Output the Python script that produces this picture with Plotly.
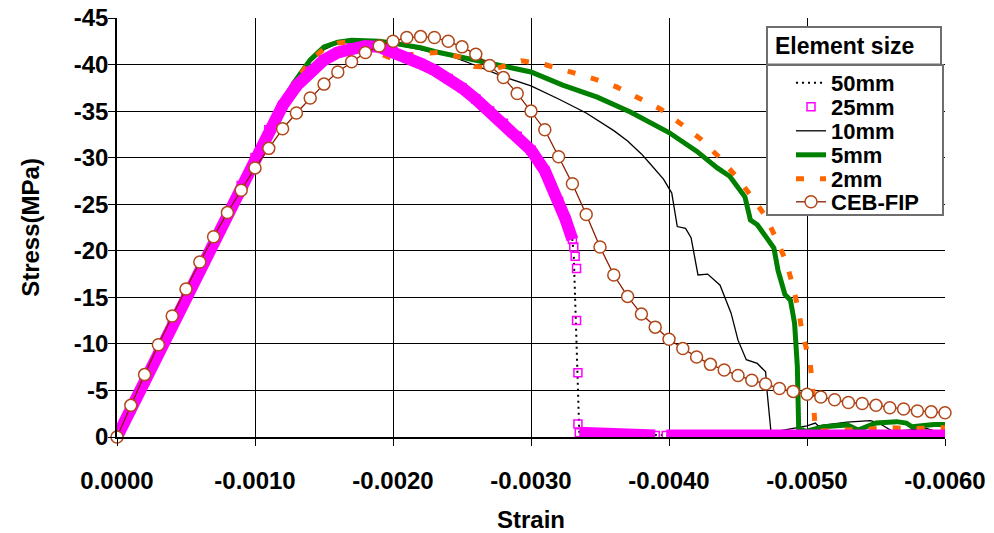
import plotly.graph_objects as go

# ---------------------------------------------------------------- data
# Stress-strain response of concrete in compression for several element sizes
# (compression negative), compared with the CEB-FIP model curve.

strain_50 = [0, -0.0005, -0.0010, -0.0012, -0.0014, -0.0016, -0.0018, -0.0020, -0.0022,
             -0.0024, -0.0026, -0.0028, -0.0030, -0.0031, -0.0032, -0.0033, -0.00331,
             -0.00333, -0.00335, -0.0036, -0.0040, -0.0045, -0.0050, -0.0055, -0.0060]
stress_50 = [0, -15.0, -30.0, -35.6, -39.3, -41.3, -42.0, -41.4, -40.1,
             -38.5, -36.3, -33.7, -30.8, -28.6, -25.3, -21.2, -19.4,
             -10.0, -0.4, -0.3, -0.2, -0.2, -0.2, -0.2, -0.2]

# 25 mm: pre-peak and softening branch, the sudden drop, and the residual tail
strain_25_pre = [0, -0.0001, -0.0002, -0.0003, -0.0004, -0.0005, -0.0006, -0.0007, -0.0008,
                 -0.0009, -0.0010, -0.0011, -0.0012, -0.0013, -0.0014, -0.0015, -0.0016,
                 -0.0017, -0.0018, -0.0019, -0.0020, -0.0021, -0.0022, -0.0023, -0.0024,
                 -0.0025, -0.0026, -0.0027, -0.0028, -0.0029, -0.0030, -0.0031, -0.0032,
                 -0.00325, -0.0033]
stress_25_pre = [0, -3.0, -6.0, -9.0, -12.0, -15.0, -18.0, -21.0, -24.0,
                 -27.0, -30.0, -33.0, -35.6, -37.7, -39.3, -40.5, -41.3,
                 -41.8, -42.0, -41.9, -41.4, -40.8, -40.1, -39.4, -38.5,
                 -37.5, -36.3, -35.0, -33.7, -32.3, -30.8, -28.6, -25.3,
                 -23.4, -21.2]
strain_25_drop = [-0.00331, -0.00332, -0.00333, -0.00333, -0.00334, -0.00334]
stress_25_drop = [-20.4, -19.4, -18.1, -12.5, -6.9, -1.4]
strain_25_post = [-0.00335, -0.0035, -0.0037, -0.0039, None, -0.00398, -0.0043,
                  -0.0047, -0.0051, -0.0055, -0.0060]
stress_25_post = [-0.45, -0.3, -0.15, -0.15, None, -0.15, -0.15,
                  -0.15, -0.15, -0.15, -0.15]

strain_10 = [0, -0.0004, -0.0008, -0.0010, -0.0012, -0.0013, -0.0014, -0.0015, -0.0016,
             -0.0017, -0.0018, -0.0019, -0.0020, -0.0022, -0.0024, -0.0026, -0.0028,
             -0.0030, -0.0032, -0.0034, -0.0036, -0.0037, -0.0038, -0.00386, -0.00392,
             -0.00396, -0.00402, -0.00406, -0.00412, -0.00416, -0.00421, -0.00428,
             -0.00437, -0.00445, -0.0045, -0.00456, -0.00464, -0.0047, -0.00471,
             -0.00473, -0.00474, -0.00478, -0.00488, -0.00493, -0.0050, -0.00506,
             -0.00508, -0.00529, -0.00546, -0.00552, -0.00562, -0.00577, -0.00587, -0.0060]
stress_10 = [0, -12.0, -24.0, -30.0, -35.9, -38.3, -40.3, -41.6, -42.3,
             -42.5, -42.5, -42.4, -42.2, -41.6, -41.0, -39.9, -38.7,
             -37.7, -36.3, -34.8, -32.9, -31.8, -30.4, -29.4, -28.4,
             -27.7, -26.2, -22.6, -22.4, -21.4, -17.4, -17.5,
             -16.3, -13.3, -10.4, -8.3, -7.9, -7.0, -5.0,
             -2.2, -0.4, -0.6, -0.9, -1.0, -1.2, -1.5,
             -1.2, -1.6, -1.75, -1.5, -0.6, -0.8, -0.9, -0.3]

strain_5 = [0, -0.0004, -0.0008, -0.0010, -0.0012, -0.00128, -0.0014, -0.0015, -0.0016,
            -0.0017, -0.0018, -0.0019, -0.0020, -0.0022, -0.0023, -0.0025, -0.0028,
            -0.0030, -0.00323, -0.00348, -0.00372, -0.0040, -0.0042, -0.00435, -0.00444,
            -0.00447, -0.00455, -0.00459, -0.00464, -0.00476, -0.00479, -0.00484,
            -0.00488, -0.00491, -0.00493, -0.00494, -0.00497, -0.00499, -0.00512,
            -0.00529, -0.00537, -0.0055, -0.00565, -0.00572, -0.00576, -0.00592, -0.0060]
stress_5 = [0, -12.0, -24.0, -30.0, -36.0, -38.0, -40.5, -41.9, -42.4,
            -42.6, -42.6, -42.5, -42.3, -41.8, -41.4, -40.8, -39.9,
            -39.2, -37.8, -36.5, -34.9, -32.7, -30.7, -28.9, -28.0,
            -27.4, -25.8, -23.3, -22.8, -20.3, -17.9, -15.3,
            -14.7, -12.2, -7.6, -0.75, -0.75, -0.6, -1.1,
            -1.3, -0.75, -1.5, -1.65, -1.5, -1.1, -1.35, -1.35]

strain_2 = [0, -0.0004, -0.0008, -0.0010, -0.0012, -0.0013, -0.0014, -0.0015, -0.0016,
            -0.00166, -0.0018, -0.0019, -0.0020, -0.00218, -0.00235, -0.00251, -0.00259,
            -0.00275, -0.00293, -0.0031, -0.00328, -0.00345, -0.00362, -0.00378,
            -0.00394, -0.00409, -0.00423, -0.00436, -0.00448, -0.00459, -0.0047,
            -0.00478, -0.00485, -0.0049, -0.00494, -0.00497, -0.00502, -0.00504,
            -0.00505, -0.00506, -0.00524, -0.00541, -0.00559, -0.00577, -0.00595, -0.0060]
stress_2 = [0, -12.0, -24.0, -30.0, -35.9, -38.3, -40.4, -41.7, -42.3,
            -42.4, -41.8, -41.2, -40.6, -41.2, -41.3, -40.7, -39.8,
            -39.6, -40.4, -40.0, -39.2, -38.5, -37.6, -36.4,
            -35.2, -33.6, -32.0, -30.1, -28.1, -26.0, -23.7,
            -21.2, -18.8, -16.1, -13.5, -10.8, -8.3, -5.6,
            -2.9, -0.6, -0.75, -0.8, -1.0, -0.9, -1.0, -1.0]

strain_ceb = [0, -0.0001, -0.0002, -0.0003, -0.0004, -0.0005, -0.0006, -0.0007, -0.0008,
              -0.0009, -0.0010, -0.0011, -0.0012, -0.0013, -0.0014, -0.0015, -0.0016,
              -0.0017, -0.0018, -0.0019, -0.0020, -0.0021, -0.0022, -0.0023, -0.0024,
              -0.0025, -0.0026, -0.0027, -0.0028, -0.0029, -0.0030, -0.0031, -0.0032,
              -0.0033, -0.0034, -0.0035, -0.0036, -0.0037, -0.0038, -0.0039, -0.0040,
              -0.0041, -0.0042, -0.0043, -0.0044, -0.0045, -0.0046, -0.0047, -0.0048,
              -0.0049, -0.0050, -0.0051, -0.0052, -0.0053, -0.0054, -0.0055, -0.0056,
              -0.0057, -0.0058, -0.0059, -0.0060]
stress_ceb = [0, -3.4, -6.7, -9.9, -13.0, -15.9, -18.8, -21.5, -24.1,
              -26.5, -28.9, -31.0, -33.1, -34.8, -36.4, -37.9, -39.2,
              -40.3, -41.3, -42.0, -42.5, -42.9, -43.0, -42.9, -42.5,
              -41.9, -41.1, -39.9, -38.6, -36.9, -35.0, -33.0, -30.1,
              -27.2, -23.9, -20.4, -17.4, -15.1, -13.2, -11.8, -10.5,
              -9.5, -8.6, -7.8, -7.2, -6.6, -6.1, -5.7, -5.2,
              -4.9, -4.6, -4.3, -4.0, -3.7, -3.6, -3.4, -3.15,
              -3.0, -2.8, -2.7, -2.6]

strain_ticks = [0, -0.001, -0.002, -0.003, -0.004, -0.005, -0.006]
strain_tick_text = ["0.0000", "-0.0010", "-0.0020", "-0.0030", "-0.0040", "-0.0050", "-0.0060"]
stress_ticks = [0, -5, -10, -15, -20, -25, -30, -35, -40, -45]
stress_tick_text = ["0", "-5", "-10", "-15", "-20", "-25", "-30", "-35", "-40", "-45"]

legend_title = "Element size"

# ---------------------------------------------------------------- layout geometry
W, H = 994, 533
L, R, T, B = 117, 49, 18, 96
PW, PH = W - L - R, H - T - B
FONT = "Liberation Sans, Arial, sans-serif"


def px_x(p):
    return (p - L) / PW


def px_y(p):
    return (H - B - p) / PH


MAGENTA = "#FF00FF"
GREEN = "#008000"
ORANGE = "#FF6600"
CEB_LINE = "#8C1C00"
CEB_EDGE = "#B0481A"

fig = go.Figure()

fig.add_trace(go.Scatter(
    x=strain_10, y=stress_10, mode="lines", name="10mm", legend="legend3",
    line=dict(color="black", width=1.3)))
fig.add_trace(go.Scatter(
    x=strain_5, y=stress_5, mode="lines", name="5mm", legend="legend4",
    line=dict(color=GREEN, width=5)))
fig.add_trace(go.Scatter(
    x=strain_2, y=stress_2, mode="lines", name="2mm", legend="legend5",
    line=dict(color=ORANGE, width=5, dash="8px,16px")))
fig.add_trace(go.Scatter(
    x=strain_50, y=stress_50, mode="lines", name="50mm", legend="legend",
    line=dict(color="black", width=2, dash="2px,4px")))

# dense 25 mm markers merge into a solid band where they overlap
fig.add_trace(go.Scatter(
    x=strain_25_pre + [None] + strain_25_post,
    y=stress_25_pre + [None] + stress_25_post,
    mode="lines", showlegend=False, hoverinfo="skip",
    line=dict(color=MAGENTA, width=12)))
fig.add_trace(go.Scatter(
    x=strain_25_pre + strain_25_drop + strain_25_post,
    y=stress_25_pre + stress_25_drop + stress_25_post,
    mode="markers", name="25mm", legend="legend2",
    marker=dict(symbol="square-open", size=8, color=MAGENTA, line=dict(width=1.5, color=MAGENTA))))

fig.add_trace(go.Scatter(
    x=strain_ceb, y=stress_ceb, mode="lines+markers", name="CEB-FIP", legend="legend6",
    cliponaxis=False,
    line=dict(color=CEB_LINE, width=1.3),
    marker=dict(symbol="circle", size=12, color="white", line=dict(width=1.5, color=CEB_EDGE))))

axis_font = dict(family=FONT, size=24, color="black", weight="bold")

fig.update_xaxes(
    range=[0, -0.006], tickvals=strain_ticks, ticktext=strain_tick_text,
    tickfont=axis_font, ticks="outside", ticklen=7, tickcolor="black", tickwidth=1,
    ticklabelstandoff=14, automargin=False,
    showgrid=True, gridcolor="black", gridwidth=1, zeroline=False,
    showline=True, linecolor="black", linewidth=1.5,
    title=dict(text="Strain", font=axis_font, standoff=19))
fig.update_yaxes(
    range=[0, -45], tickvals=stress_ticks, ticktext=stress_tick_text,
    tickfont=axis_font, ticks="outside", ticklen=7, tickcolor="black", tickwidth=1,
    ticklabelstandoff=-5, automargin=False,
    showgrid=True, gridcolor="black", gridwidth=1, zeroline=False,
    showline=True, linecolor="black", linewidth=1.5,
    title=dict(text="Stress(MPa)", font=axis_font, standoff=27))

# legend: title box above a box of entries, one single-entry legend per row
legend_font = dict(family=FONT, size=22, color="black", weight="bold")
title_font = dict(family=FONT, size=23, color="black", weight="bold")
row_centres = {"legend": 83, "legend2": 107, "legend3": 131,
               "legend4": 155, "legend5": 179, "legend6": 202}
legends = {}
for key, yc in row_centres.items():
    legends[key] = dict(x=px_x(791), y=px_y(yc), xanchor="left", yanchor="middle",
                        bgcolor="rgba(0,0,0,0)", borderwidth=0, font=legend_font,
                        itemwidth=30, tracegroupgap=0)

box_line = dict(color="#6E6E6E", width=2)
shapes = [
    dict(type="rect", xref="paper", yref="paper", layer="above",
         x0=px_x(767), x1=px_x(941), y0=px_y(64.5), y1=px_y(27),
         line=box_line, fillcolor="white"),
    dict(type="rect", xref="paper", yref="paper", layer="above",
         x0=px_x(767), x1=px_x(943), y0=px_y(215), y1=px_y(65),
         line=box_line, fillcolor="white"),
]

fig.update_layout(
    width=W, height=H,
    margin=dict(l=L, r=R, t=T, b=B, pad=0, autoexpand=False),
    paper_bgcolor="white", plot_bgcolor="white",
    font=dict(family=FONT, color="black"),
    shapes=shapes,
    annotations=[dict(text=legend_title, xref="paper", yref="paper",
                      x=px_x(773), y=px_y(46), xanchor="left", yanchor="middle",
                      showarrow=False, font=title_font)],
    **legends,
)

fig.write_html("out.html")
